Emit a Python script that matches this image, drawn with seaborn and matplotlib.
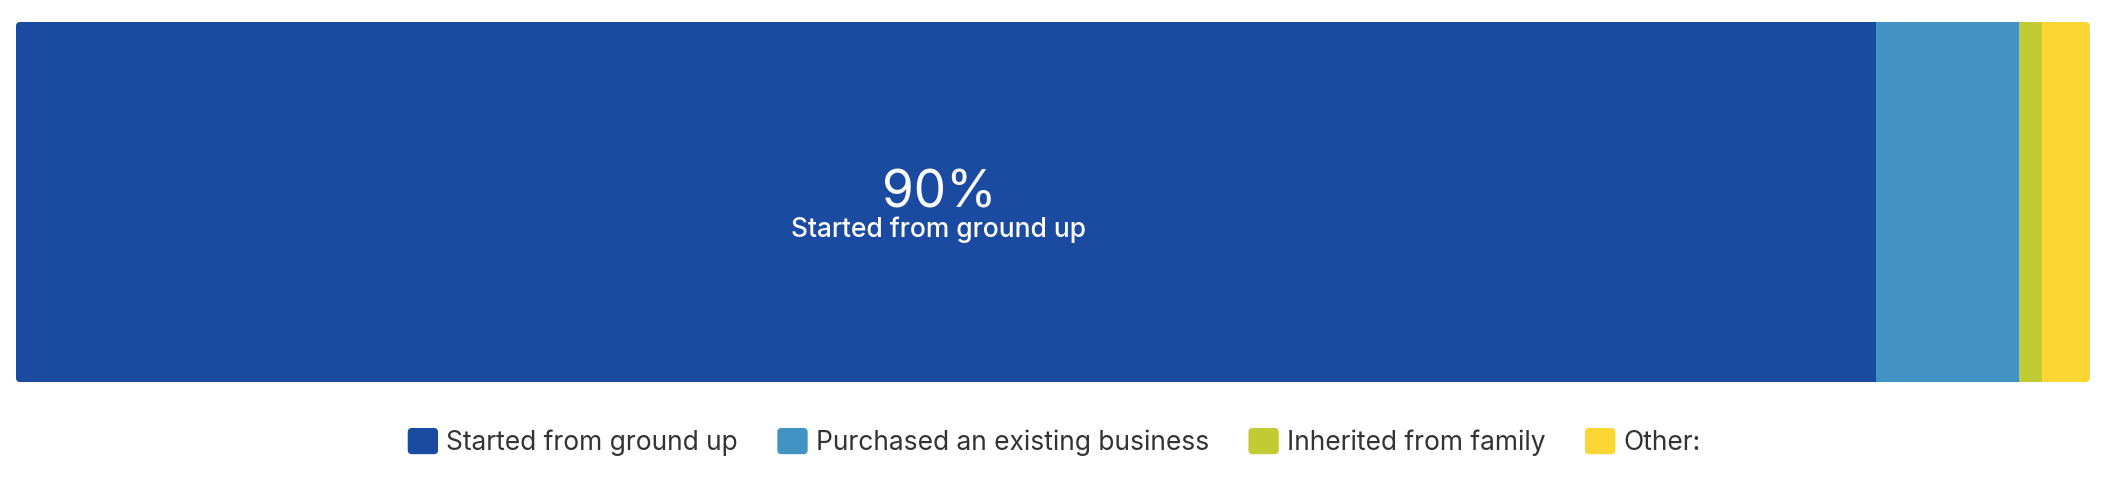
import numpy as np
import pandas as pd
import matplotlib.pyplot as plt
import seaborn as sns
from matplotlib.patches import Patch, FancyBboxPatch
from matplotlib.legend_handler import HandlerPatch

sns.set_theme(style="white")
plt.rcParams['font.family'] = ['Inter', 'DejaVu Sans']

# veriler
kategoriler = ["Started from ground up", "Purchased an existing business",
               "Inherited from family", "Other:"]
yuzdeler = [89.7, 6.9, 1.1, 2.3]
renkler = ["#1B4BA0", "#4392C4", "#C1CB34", "#FCD733"]
etiket_yuzde = "90%"

df = pd.DataFrame({"kategori": kategoriler, "yuzde": yuzdeler})
df["kumulatif"] = df["yuzde"].cumsum()
df["soru"] = "Q"

fig = plt.figure(figsize=(21.08, 4.9), dpi=100)
ax = fig.add_axes([16 / 2108, 108 / 490, 2074 / 2108, 360 / 490])

# yigilmis cubuk: buyukten kucuge ust uste ciz
clip = FancyBboxPatch((0, 0), 1, 1, boxstyle="round,pad=0,rounding_size=0.0022",
                      mutation_aspect=2074 / 360, transform=ax.transAxes,
                      facecolor="none", edgecolor="none")
ax.add_patch(clip)
for i in reversed(range(len(df))):
    sns.barplot(x=[df["kumulatif"].iloc[i]], y=df["soru"].iloc[[i]], orient="h",
                color=renkler[i], width=1.0, saturation=1, ax=ax)
for p in ax.patches:
    if p is not clip:
        p.set_clip_path(clip)
        p.set_edgecolor("none")

ax.set_xlim(0, df["kumulatif"].iloc[-1])
ax.set_ylim(0.5, -0.5)
ax.axis("off")

orta = df["yuzde"].iloc[0] / 2 - 0.35
ax.text(orta, 0.014, etiket_yuzde, color="white", fontsize=37,
        ha="center", va="baseline")
ax.text(orta, 0.097, kategoriler[0], color="white", fontsize=19, fontweight="medium",
        ha="center", va="baseline")


def yuvarlak_kare(legend, orig_handle, xdescent, ydescent, width, height, fontsize):
    return FancyBboxPatch((-xdescent, -ydescent), width, height,
                          boxstyle="round,pad=0,rounding_size=3")


handles = [Patch(facecolor=c, edgecolor="none", label=k) for k, c in zip(kategoriler, renkler)]
fig.legend(handles=handles, loc="center", bbox_to_anchor=(0.5, 48 / 490), ncol=4,
           frameon=False, fontsize=19, handlelength=1.15, handleheight=1.15,
           handletextpad=0.3, columnspacing=1.5, labelcolor="#333333",
           handler_map={Patch: HandlerPatch(patch_func=yuvarlak_kare)})

fig.savefig("out.png", dpi=100, facecolor="white")
